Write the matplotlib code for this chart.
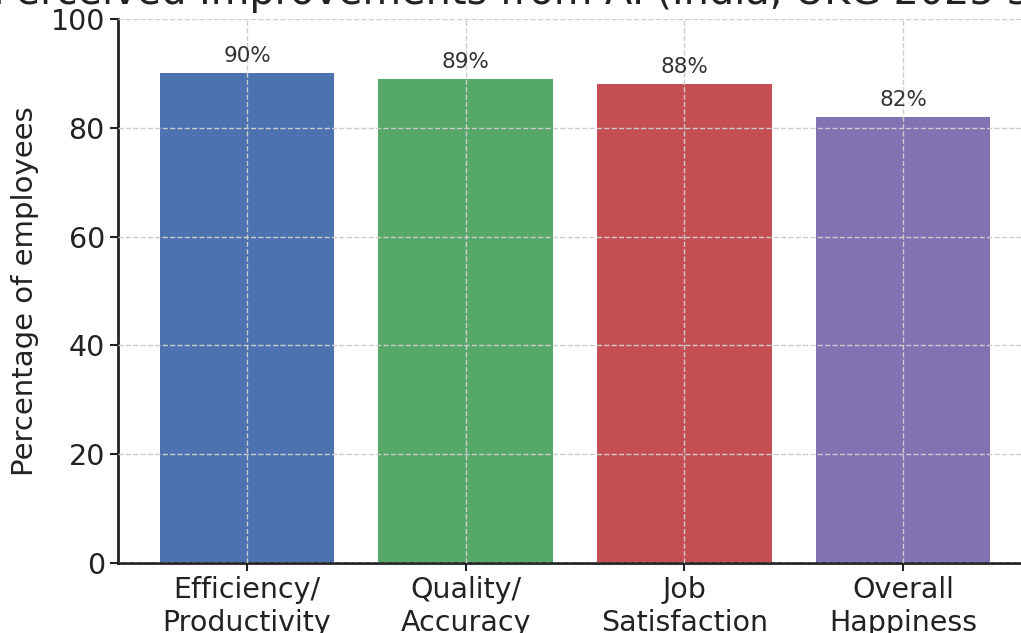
import matplotlib
matplotlib.use("Agg")
import matplotlib.pyplot as plt

categories = ["Efficiency/\nProductivity", "Quality/\nAccuracy", "Job\nSatisfaction", "Overall\nHappiness"]
values = [90, 89, 88, 82]
colors = ["#4C72B0", "#55A868", "#C44E52", "#8172B2"]
yticks = [0, 20, 40, 60, 80, 100]

plt.rcParams["font.family"] = ["DejaVu Sans"]

fig = plt.figure(figsize=(10.21, 6.33), dpi=100)
ax = fig.add_axes([118 / 1021, 70 / 633, 914 / 1021, 544 / 633])

x = range(len(categories))
bars = ax.bar(x, values, color=colors, width=0.8)
ax.set_ylim(0, 100)
ax.set_yticks(yticks)
ax.set_xticks(list(x))
ax.set_xticklabels(categories)
ax.tick_params(axis="both", labelsize=20.5, length=6, width=1.5, colors="#222222")
ax.set_ylabel("Percentage of employees", fontsize=21, color="#222222", labelpad=8)
ax.set_title("Perceived Improvements from AI (India, UKG 2025 survey)", fontsize=28.6,
             color="#222222", pad=11)

for b, v in zip(bars, values):
    ax.annotate(f"{v}%", (b.get_x() + b.get_width() / 2, v), xytext=(0, 5),
                textcoords="offset points", ha="center", va="bottom",
                fontsize=15.5, color="#333333")

ax.set_axisbelow(False)
ax.grid(True, linestyle="--", color="#cccccc", linewidth=1)
for s in ["top", "right"]:
    ax.spines[s].set_visible(False)
for s in ["left", "bottom"]:
    ax.spines[s].set_linewidth(2)
    ax.spines[s].set_color("#222222")

fig.savefig("out.png", dpi=100)
